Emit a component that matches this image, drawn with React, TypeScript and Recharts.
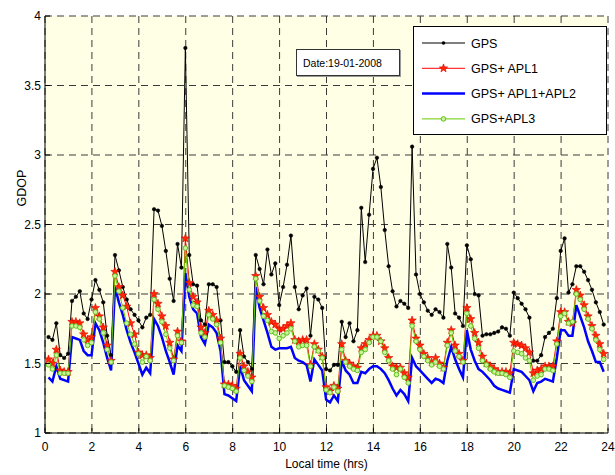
import { LineChart, Line, XAxis, YAxis, CartesianGrid, Legend } from "recharts";

// GDOP over the day, 10 minute samples
const gps = [
  1.69, 1.67, 1.79, 1.56, 1.54, 1.57, 1.95, 1.98, 2.02, 1.86, 1.82, 1.96,
  2.10, 2.03, 1.94, 1.70, 1.56,
  2.28, 2.17, 2.05, 1.96, 1.89, 1.85, 1.81, 1.76, 1.83, 1.85,
  2.61, 2.60, 2.49, 2.31, 2.11, 1.95, 2.36, 2.19,
  3.77,
  2.28, 2.07, 2.06, 1.81, 1.78, 2.07, 2.07, 2.05, 1.81,
  1.51, 1.51, 1.48, 1.44, 1.74, 1.55, 1.51, 1.46,
  2.28, 2.18, 2.07, 2.32,
  2.14, 2.22, 1.92, 2.05, 2.21, 2.42, 2.05, 1.89, 1.99, 2.04, 1.70, 1.98, 1.96, 1.90,
  1.46, 1.45, 1.49, 1.49, 1.80, 1.69, 1.79, 1.66, 1.74,
  2.62, 2.23, 2.57, 2.90, 2.98, 2.77, 2.46, 2.20, 2.02, 1.91, 1.95, 1.93, 1.90,
  3.06, 2.14, 2.00, 1.94, 1.88, 1.85, 1.89, 1.87, 1.83,
  2.36, 2.19, 1.86, 1.83, 1.77, 2.35, 2.25, 2.00, 1.99,
  1.70, 1.71, 1.71, 1.72, 1.73, 1.76, 1.75, 1.70,
  2.01, 1.97, 1.93, 1.89, 1.83,
  1.52, 1.52, 1.56, 1.69, 1.72, 1.75,
  1.97, 2.31, 2.40, 2.01, 2.07, 2.20, 2.20, 2.16, 2.10, 2.03, 1.94, 1.87, 1.78,
];

const apl1 = [
  1.53, 1.50, 1.60, 1.45, 1.44, 1.44, 1.80, 1.80, 1.79, 1.71, 1.67, 1.69,
  1.90, 1.84, 1.76, 1.63, 1.52,
  2.16, 2.05, 1.99, 1.91, 1.79, 1.71, 1.58, 1.56, 1.56, 1.54,
  2.00, 1.93, 1.84, 1.77, 1.65, 1.53, 1.73, 1.66,
  2.40,
  2.08, 1.98, 1.94, 1.76, 1.72, 1.88, 1.85, 1.81, 1.68,
  1.35, 1.35, 1.34, 1.32, 1.57, 1.48, 1.44, 1.40,
  2.13, 1.98, 1.90, 1.85,
  1.80, 1.78, 1.75, 1.75, 1.77, 1.79, 1.67, 1.66, 1.67, 1.67, 1.49, 1.64, 1.60, 1.55,
  1.33, 1.30, 1.34, 1.32, 1.64, 1.52, 1.50, 1.48, 1.47,
  1.61, 1.64, 1.67, 1.70, 1.70, 1.66, 1.61, 1.54, 1.48, 1.47, 1.47, 1.43, 1.40,
  1.81, 1.68, 1.63, 1.57, 1.54, 1.51, 1.54, 1.50, 1.47,
  1.65, 1.74, 1.63, 1.57, 1.52, 1.90, 1.82, 1.72, 1.65,
  1.55, 1.50, 1.48, 1.46, 1.44, 1.44, 1.44, 1.43,
  1.65, 1.64, 1.63, 1.61, 1.58,
  1.43, 1.45, 1.46, 1.48, 1.48, 1.48,
  1.66, 1.87, 1.87, 1.80, 1.79, 2.03, 1.99, 1.92, 1.84, 1.77, 1.70, 1.64, 1.57,
];

const apl12 = [
  1.40, 1.37, 1.48, 1.39, 1.38, 1.37, 1.69, 1.68, 1.67, 1.59, 1.56, 1.56,
  1.79, 1.74, 1.65, 1.54, 1.45,
  2.05, 1.94, 1.85, 1.74, 1.65, 1.58, 1.50, 1.42, 1.47, 1.43,
  1.82, 1.77, 1.69, 1.59, 1.51, 1.42, 1.63, 1.59,
  2.15,
  1.98, 1.89, 1.86, 1.69, 1.64, 1.78, 1.76, 1.72, 1.59,
  1.28, 1.27, 1.25, 1.23, 1.48, 1.38, 1.34, 1.30,
  2.05, 1.90, 1.81, 1.72,
  1.62, 1.60, 1.61, 1.61, 1.61, 1.62, 1.54, 1.52, 1.51, 1.49, 1.37, 1.53, 1.49, 1.45,
  1.24, 1.22, 1.27, 1.23, 1.52, 1.45, 1.42, 1.36, 1.36,
  1.44, 1.43, 1.46, 1.48, 1.48, 1.46, 1.43, 1.38, 1.32, 1.27, 1.31, 1.28, 1.23,
  1.54, 1.48, 1.45, 1.42, 1.39, 1.36, 1.39, 1.38, 1.36,
  1.52, 1.62, 1.53, 1.46, 1.40, 1.74, 1.60, 1.52, 1.46,
  1.44, 1.41, 1.38, 1.34, 1.32, 1.31, 1.30, 1.29,
  1.46, 1.45, 1.44, 1.41, 1.38,
  1.30, 1.36, 1.37, 1.39, 1.38, 1.37,
  1.54, 1.74, 1.74, 1.70, 1.70, 1.92, 1.84, 1.76, 1.66, 1.59, 1.51, 1.51, 1.44,
];

const apl3 = [
  1.49, 1.46, 1.56, 1.43, 1.43, 1.43, 1.77, 1.77, 1.76, 1.67, 1.63, 1.65,
  1.87, 1.82, 1.72, 1.60, 1.51,
  2.13, 2.02, 1.90, 1.79, 1.71, 1.64, 1.57, 1.51, 1.55, 1.52,
  1.96, 1.89, 1.80, 1.71, 1.61, 1.52, 1.70, 1.65,
  2.33,
  2.03, 1.92, 1.91, 1.72, 1.69, 1.85, 1.82, 1.78, 1.65,
  1.34, 1.33, 1.32, 1.30, 1.54, 1.45, 1.41, 1.37,
  2.11, 1.95, 1.84, 1.81,
  1.73, 1.72, 1.68, 1.70, 1.72, 1.75, 1.66, 1.62, 1.63, 1.63, 1.48, 1.62, 1.59, 1.54,
  1.31, 1.29, 1.33, 1.30, 1.60, 1.51, 1.48, 1.46, 1.45,
  1.58, 1.60, 1.65, 1.69, 1.69, 1.66, 1.58, 1.52, 1.46, 1.42, 1.46, 1.40, 1.36,
  1.77, 1.66, 1.60, 1.55, 1.52, 1.49, 1.51, 1.48, 1.46,
  1.63, 1.72, 1.59, 1.55, 1.51, 1.86, 1.77, 1.68, 1.61,
  1.52, 1.49, 1.46, 1.44, 1.43, 1.43, 1.42, 1.40,
  1.59, 1.58, 1.57, 1.54, 1.52,
  1.38, 1.41, 1.42, 1.46, 1.46, 1.45,
  1.64, 1.84, 1.86, 1.79, 1.80, 2.00, 1.96, 1.89, 1.82, 1.75, 1.67, 1.60, 1.53,
];

const xTicks = [0, 2, 4, 6, 8, 10, 12, 14, 16, 18, 20, 22, 24];
const yTicks = [1, 1.5, 2, 2.5, 3, 3.5, 4];

// sample times in hours (one every 10 min)
const hours = gps.map((_, i) => 0.15 + i / 6);

const data = hours.map((t, i) => ({
  t,
  gps: gps[i],
  apl1: apl1[i],
  apl12: apl12[i],
  apl3: apl3[i],
}));

const FONT = "'Liberation Sans', Arial, sans-serif";
const TICK = 5;

function BottomTick({ x, y, payload }: any) {
  return (
    <g>
      <line x1={x} y1={y} x2={x} y2={y - TICK} stroke="#000" />
      <text x={x} y={y + 18} textAnchor="middle" fontSize={12} fontFamily={FONT} fill="#000">
        {payload.value}
      </text>
    </g>
  );
}

function LeftTick({ x, y, payload }: any) {
  return (
    <g>
      <line x1={x} y1={y} x2={x + TICK} y2={y} stroke="#000" />
      <text x={x - 4} y={y + 4.3} textAnchor="end" fontSize={12} fontFamily={FONT} fill="#000">
        {payload.value}
      </text>
    </g>
  );
}

function TopTick({ x, y }: any) {
  return <line x1={x} y1={y} x2={x} y2={y + TICK} stroke="#000" />;
}

function RightTick({ x, y }: any) {
  return <line x1={x} y1={y} x2={x - TICK} y2={y} stroke="#000" />;
}

function GdopLabel({ viewBox }: any) {
  const x = viewBox.x + 26;
  const y = viewBox.y + 172;
  return (
    <text x={x} y={y} transform={`rotate(-90, ${x}, ${y})`} textAnchor="middle" fontSize={12.5} fontFamily={FONT} fill="#000">
      GDOP
    </text>
  );
}

function starPoints(cx: number, cy: number, R: number, r: number) {
  const pts: string[] = [];
  for (let i = 0; i < 10; i++) {
    const a = -Math.PI / 2 + (i * Math.PI) / 5;
    const rad = i % 2 === 0 ? R : r;
    pts.push(`${cx + rad * Math.cos(a)},${cy + rad * Math.sin(a)}`);
  }
  return pts.join(" ");
}

function Star({ cx, cy }: { cx: number; cy: number }) {
  return <polygon points={starPoints(cx, cy, 4.4, 1.8)} fill="#ff2a00" stroke="#e00000" strokeWidth={0.6} />;
}

const renderStar = (p: any) => <Star key={`s${p.index}`} cx={p.cx} cy={p.cy} />;

function LegendBox() {
  const rows = [
    { name: "GPS", color: "#000", w: 1 },
    { name: "GPS+ APL1", color: "#ff0000", w: 1 },
    { name: "GPS+ APL1+APL2", color: "#0000ff", w: 2.5 },
    { name: "GPS+APL3", color: "#66cc00", w: 1 },
  ];
  return (
    <svg width={194} height={109} style={{ display: "block" }}>
      <rect x={0.5} y={0.5} width={193} height={108} fill="#fff" stroke="#000" />
      {rows.map((r, i) => {
        const y = 17 + i * 25.3;
        return (
          <g key={r.name}>
            <line x1={9} x2={52} y1={y} y2={y} stroke={r.color} strokeWidth={r.w} />
            {i === 0 && <circle cx={30.5} cy={y} r={1.8} fill="#000" />}
            {i === 1 && <Star cx={30.5} cy={y} />}
            {i === 3 && <circle cx={30.5} cy={y} r={2.3} fill="#c8f59a" stroke="#5fbf1f" />}
            <text x={58} y={y + 4.5} fontSize={12.5} fontFamily={FONT} fill="#000">
              {r.name}
            </text>
          </g>
        );
      })}
    </svg>
  );
}

export default function App() {
  return (
    <div style={{ position: "absolute", left: 0, top: 0, width: 615, height: 475, background: "#fff" }}>
      <LineChart width={615} height={475} data={data} margin={{ top: 16, right: 7, bottom: 0, left: 0 }}>
        <CartesianGrid stroke="#3a3a3a" strokeDasharray="7 5" fill="#ffffe6" fillOpacity={1} />
        <XAxis
          dataKey="t"
          type="number"
          domain={[0, 24]}
          ticks={xTicks}
          interval={0}
          height={42}
          tickSize={0}
          tickMargin={0}
          tickLine={false}
          axisLine={{ stroke: "#000" }}
          tick={<BottomTick />}
          allowDataOverflow
          label={{ value: "Local time (hrs)", position: "insideBottom", offset: 7, fontSize: 12, fill: "#000", fontFamily: FONT }}
        />
        <XAxis
          xAxisId="top"
          dataKey="t"
          orientation="top"
          type="number"
          domain={[0, 24]}
          ticks={xTicks}
          interval={0}
          height={0}
          tickSize={0}
          tickMargin={0}
          tickLine={false}
          axisLine={{ stroke: "#000" }}
          tick={<TopTick />}
          allowDataOverflow
        />
        <YAxis
          type="number"
          domain={[1, 4]}
          ticks={yTicks}
          interval={0}
          width={45}
          tickSize={0}
          tickMargin={0}
          tickLine={false}
          axisLine={{ stroke: "#000" }}
          tick={<LeftTick />}
          allowDataOverflow
          label={<GdopLabel />}
        />
        <YAxis
          yAxisId="right"
          orientation="right"
          type="number"
          domain={[1, 4]}
          ticks={yTicks}
          interval={0}
          width={0}
          tickSize={0}
          tickMargin={0}
          tickLine={false}
          axisLine={{ stroke: "#000" }}
          tick={<RightTick />}
          allowDataOverflow
        />
        <Legend
          verticalAlign="middle"
          align="center"
          content={<LegendBox />}
          wrapperStyle={{ position: "absolute", left: 413, top: 26, width: 194, height: 109 }}
        />
        <Line
          name="GPS"
          dataKey="gps"
          stroke="#000"
          strokeWidth={1}
          dot={{ r: 1.8, fill: "#000", stroke: "#000", strokeWidth: 0.5 }}
          isAnimationActive={false}
        />
        <Line
          name="GPS+ APL1"
          dataKey="apl1"
          stroke="#ff0000"
          strokeWidth={1}
          dot={renderStar}
          isAnimationActive={false}
        />
        <Line
          name="GPS+ APL1+APL2"
          dataKey="apl12"
          stroke="#0000ff"
          strokeWidth={2.5}
          dot={false}
          isAnimationActive={false}
        />
        <Line
          name="GPS+APL3"
          dataKey="apl3"
          stroke="#66cc00"
          strokeWidth={1}
          dot={{ r: 2.3, fill: "#c8f59a", stroke: "#5fbf1f", strokeWidth: 1 }}
          isAnimationActive={false}
        />
      </LineChart>
      <div
        style={{
          position: "absolute",
          left: 296,
          top: 49,
          width: 104,
          height: 27,
          background: "#fff",
          border: "1px solid #333",
          boxShadow: "1px 1px 0 #999",
          fontFamily: FONT,
          fontSize: 10.5,
          lineHeight: "27px",
          paddingLeft: 6,
          boxSizing: "border-box",
          color: "#000",
        }}
      >
        Date:19-01-2008
      </div>
    </div>
  );
}
